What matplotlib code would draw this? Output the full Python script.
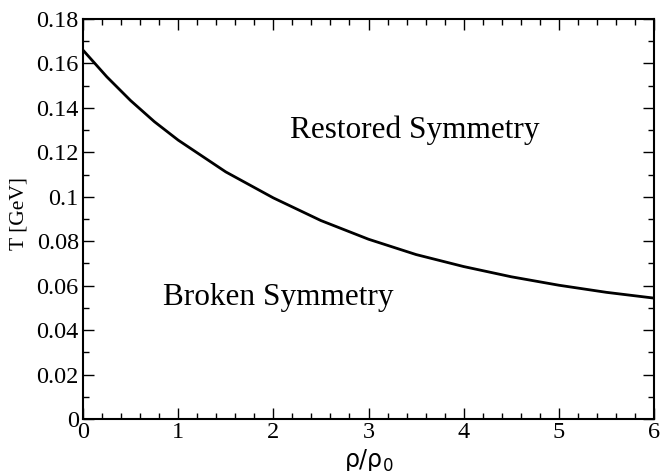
import numpy as np
import matplotlib.pyplot as plt
from matplotlib.ticker import MultipleLocator

# Phase boundary
rho = [0, 0.25, 0.5, 0.75, 1.0, 1.5, 2.0, 2.5, 3.0, 3.5, 4.0, 4.5, 5.0, 5.5, 6.0]
T = [0.166, 0.1540, 0.1433, 0.1338, 0.1255, 0.1112, 0.0995, 0.0893,
     0.0809, 0.0740, 0.0686, 0.0640, 0.0602, 0.0570, 0.0544]

plt.rcParams['font.family'] = ['Liberation Serif', 'DejaVu Serif']

fig = plt.figure(figsize=(6.6, 4.71), dpi=100)
ax = fig.add_axes([83 / 660, 1 - 419 / 471, 571 / 660, 400 / 471])

ax.plot(rho, T, color='black', lw=2.0)

ax.set_xlim(0, 6)
ax.set_ylim(0, 0.18)
ax.xaxis.set_major_locator(MultipleLocator(1))
ax.xaxis.set_minor_locator(MultipleLocator(0.2))
ax.yaxis.set_minor_locator(MultipleLocator(0.01))
ax.set_yticks(np.arange(0, 0.181, 0.02))
ax.set_yticklabels(['0', '0.02', '0.04', '0.06', '0.08', '0.1', '0.12',
                    '0.14', '0.16', '0.18'])
ax.tick_params(which='both', direction='in', top=True, right=True,
               labelsize=17.5, width=1.0)
ax.tick_params(which='major', length=8)
ax.tick_params(which='minor', length=4)
ax.tick_params(axis='x', pad=2)
ax.tick_params(axis='y', pad=3)
for s in ax.spines.values():
    s.set_linewidth(1.5)

ax.text(2.17, 0.130, 'Restored Symmetry', fontsize=22.5, va='center', ha='left')
ax.text(0.84, 0.0545, 'Broken Symmetry', fontsize=22.5, va='center', ha='left')

ax.set_ylabel('T [GeV]', fontsize=15.5)
ax.yaxis.set_label_coords(-0.095, 0.515)
ax.set_xlabel('ρ/ρ$_0$', fontsize=17, family='DejaVu Sans')
ax.xaxis.set_label_coords(0.5, -0.07)

fig.savefig('out.png', dpi=100)
